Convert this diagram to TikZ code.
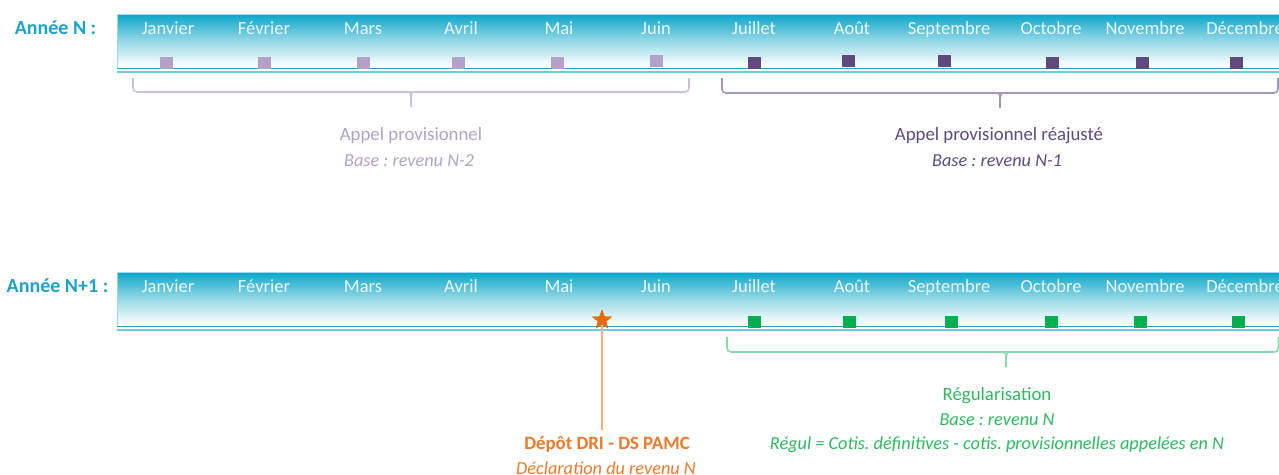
\documentclass[tikz,border=0pt]{standalone}
\usepackage{fontspec}
\setmainfont{Carlito}
\usetikzlibrary{shapes.geometric}
\frenchspacing
\definecolor{bandtop}{HTML}{0BA6C9}
\definecolor{bandline}{HTML}{1BA3CB}
\definecolor{bandline2}{HTML}{6CCBE4}
\definecolor{monthtxt}{HTML}{EAF6FA}
\definecolor{lpurple}{HTML}{B3A2C8}
\definecolor{lpurplebr}{HTML}{CDC2DD}
\definecolor{dpurple}{HTML}{5E4A7E}
\definecolor{dpurplebr}{HTML}{A496B8}
\definecolor{gsq}{HTML}{00B050}
\definecolor{gbr}{HTML}{86DBA8}
\definecolor{gtxt}{HTML}{2DBA5E}
\definecolor{yearblue}{HTML}{1DA2CA}
\definecolor{orng}{HTML}{E46C0A}
\definecolor{orngline}{HTML}{F6AE7C}
\definecolor{orngtxt}{HTML}{EC7A2A}
\tikzset{
  month/.style={text=monthtxt, font=\fontsize{18.5}{21}\selectfont, inner sep=0pt, anchor=base},
  year/.style={text=yearblue, font=\bfseries\fontsize{20}{22}\selectfont, inner sep=0pt, anchor=base},
  sq/.style={minimum width=13pt, minimum height=12pt, inner sep=0pt, draw=none},
  lbl/.style={font=\fontsize{18.8}{21}\selectfont, inner sep=0pt, anchor=base},
  ilbl/.style={font=\itshape\fontsize{18.3}{21}\selectfont, inner sep=0pt, anchor=base},
  bracestyle/.style={line width=1.6pt, rounded corners=4pt},
}
\begin{document}
\begin{tikzpicture}[x=1pt,y=-1pt]
\useasboundingbox (0,0) rectangle (1279,474);
% ---------- bands ----------
\foreach \yt in {14,272}{
  \shade[top color=bandtop, bottom color=white, middle color=bandtop!45!white] (117,\yt) rectangle (1279,\yt+52);
  \fill[white] (117,\yt+52) rectangle (1279,\yt+54.5);
  \draw[bandtop!40!white, line width=0.8pt] (117,\yt+54.5) -- (117,\yt) -- (1279,\yt);
  \draw[bandline, line width=1.3pt] (117,\yt+54.8) -- (1279,\yt+54.8);
  \draw[bandline2, line width=2pt] (117,\yt+57.6) -- (1279,\yt+57.6);
}
% ---------- year labels ----------
\node[year] (yN) at (55.5,34) {Année N :};
\node[year] (yN1) at (57.5,292) {Année N+1 :};
% ---------- months ----------
\foreach \m/\x [count=\i] in {Janvier/168,Février/264,Mars/363,Avril/461,Mai/559,Juin/656,Juillet/754,Août/852,Septembre/949,Octobre/1051,Novembre/1145,Décembre/1245}{
  \node[month] (ma\i) at (\x,34) {\m};
  \node[month] (mb\i) at (\x,292) {\m};
}
% ---------- squares year N ----------
\foreach \x/\y [count=\i] in {166/62.5,264/62.5,363/62.5,458/62.5,557/62.5,656/61}{
  \node[sq, fill=lpurple] (pa\i) at (\x,\y) {};
}
\foreach \x/\y [count=\i] in {754/62.5,848/61,944/61,1052/62.5,1142/62.5,1236/62.5}{
  \node[sq, fill=dpurple] (pb\i) at (\x,\y) {};
}
% ---------- squares year N+1 ----------
\foreach \x [count=\i] in {754,849,951,1051,1140,1238}{
  \node[sq, fill=gsq] (g\i) at (\x,321.5) {};
}
% ---------- braces ----------
\draw[bracestyle, draw=lpurplebr] (133,78) -- (133,92) -- (406,92) to[out=0,in=90] (411,98) -- (411,107);
\draw[bracestyle, draw=lpurplebr] (689,78) -- (689,92) -- (416,92) to[out=180,in=90] (411,98);
\draw[bracestyle, draw=dpurplebr] (722,78) -- (722,93) -- (995,93) to[out=0,in=90] (1000,99) -- (1000,108);
\draw[bracestyle, draw=dpurplebr] (1278,78) -- (1278,93) -- (1005,93) to[out=180,in=90] (1000,99);
\draw[bracestyle, draw=gbr] (727,337) -- (727,352) -- (1001,352) to[out=0,in=90] (1006,358) -- (1006,367);
\draw[bracestyle, draw=gbr] (1278.5,337) -- (1278.5,352) -- (1011,352) to[out=180,in=90] (1006,358);
% ---------- texts year N ----------
\node[lbl, text=lpurple] (t1) at (411,140) {Appel provisionnel};
\node[ilbl, text=lpurple] (t2) at (409,166) {Base : revenu N-2};
\node[lbl, text=dpurple] (t3) at (999,140) {Appel provisionnel réajusté};
\node[ilbl, text=dpurple] (t4) at (997,166) {Base : revenu N-1};
% ---------- texts year N+1 ----------
\node[lbl, text=gtxt] (r1) at (997,400) {Régularisation};
\node[ilbl, text=gtxt] (r2) at (997,425.5) {Base : revenu N};
\node[ilbl, text=gtxt] (r3) at (997,449.5) {Régul = Cotis. définitives - cotis. provisionnelles appelées en N};
\node[lbl, text=orngtxt, font=\bfseries\fontsize{18.8}{21}\selectfont] (d1) at (607,449.5) {Dépôt DRI - DS PAMC};
\node[ilbl, text=orngtxt] (d2) at (606,474) {Déclaration du revenu N};
% ---------- star and connector ----------
\node[star, star points=5, star point ratio=2.4, minimum size=21pt, inner sep=0pt, fill=orng] (st) at (602,320) {};
\coordinate (lineend) at (602,430);
\draw[orngline, line width=2.6pt] (st.center) -- (lineend);
\node[star, star points=5, star point ratio=2.4, minimum size=21pt, inner sep=0pt, fill=orng] at (st.center) {};
\end{tikzpicture}
\end{document}
